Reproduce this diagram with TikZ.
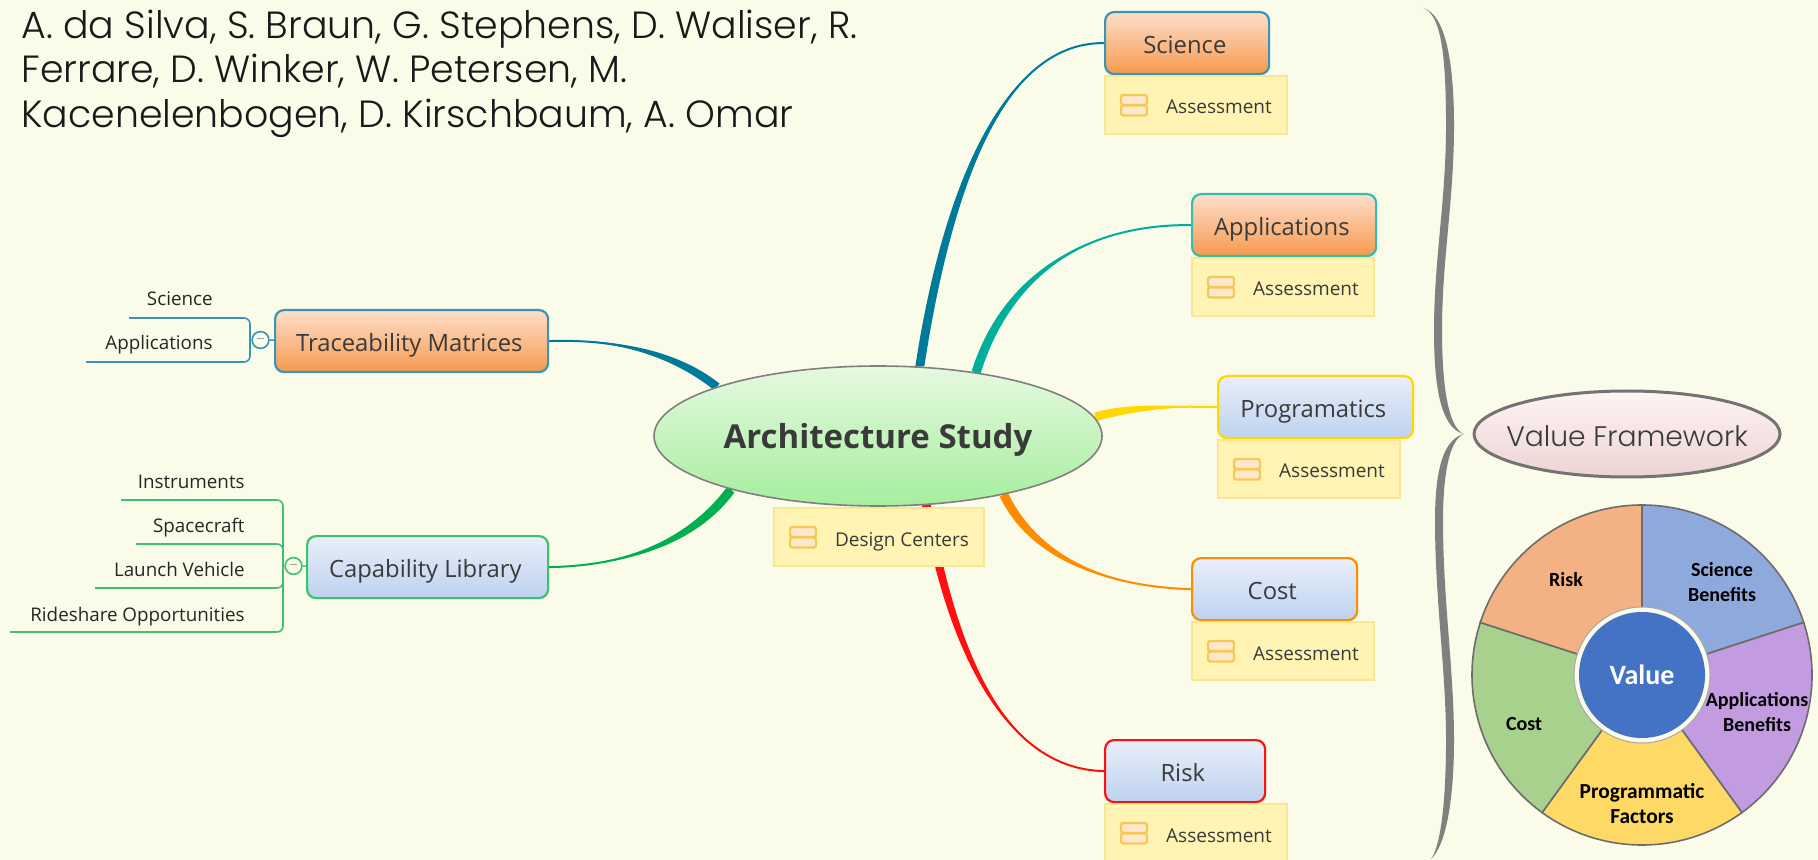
\documentclass[tikz,border=0pt]{standalone}
\usepackage{fontspec}
\setmainfont{Open Sans}
\newfontfamily\headfont[UprightFont=* Light]{Poppins}
\newfontfamily\piefont{Carlito}
\usetikzlibrary{shapes.geometric,calc,backgrounds}
\definecolor{bgc}{HTML}{FBFBE9}
\definecolor{cSci}{HTML}{007A9B}
\definecolor{cApp}{HTML}{00AE9C}
\definecolor{cProg}{HTML}{FFD800}
\definecolor{cCost}{HTML}{FF8C00}
\definecolor{cRisk}{HTML}{FF1010}
\definecolor{cCap}{HTML}{00AF50}
\definecolor{lnTM}{HTML}{3A95B4}
\definecolor{lnCap}{HTML}{3CC26F}
\definecolor{txt}{HTML}{3A3A3A}
\definecolor{oTop}{HTML}{FDDFCB}
\definecolor{oBot}{HTML}{F7994E}
\definecolor{bTop}{HTML}{E9EFF9}
\definecolor{bBot}{HTML}{BDD2F0}
\definecolor{gTop}{HTML}{E6F9E0}
\definecolor{gBot}{HTML}{A6EE9E}
\definecolor{noteF}{HTML}{FFF4B4}
\definecolor{noteB}{HTML}{FBE793}
\definecolor{iconF}{HTML}{FEE8CC}
\definecolor{iconB}{HTML}{F5C85A}
\definecolor{braceC}{HTML}{808080}
\definecolor{valueC}{HTML}{4472C4}
\newcommand{\fs}[1]{\fontsize{#1}{#1}\selectfont}
\newcommand{\minusmark}{\textcolor{gray!75}{\rule[1.4pt]{3.6pt}{0.8pt}}}
\tikzset{
  x=0.5pt,y=-0.5pt,
  topicbox/.style={draw,line width=1.1pt,rounded corners=4.5pt,text=txt,font=\fs{11.9},inner sep=0pt,anchor=north west,text height=10pt,text depth=0pt,execute at end node={\kern2.3pt}},
  orangefill/.style={top color=oTop,bottom color=oBot},
  bluefill/.style={top color=bTop,bottom color=bBot},
  notebox/.style={draw=noteB,fill=noteF,line width=0.8pt,inner sep=0pt,anchor=north west},
  notetext/.style={text=txt,font=\fs{9.5},inner sep=0pt,anchor=base},
  leaf/.style={text=black!85,font=\fs{9.4},inner sep=0pt,anchor=base east},
  toggle/.style={circle,draw,line width=0.8pt,fill=bgc,minimum size=8.4pt,inner sep=0pt},
  wedge/.style={draw=gray!85!black,line width=0.8pt},
  pielabel/.style={font=\piefont\bfseries\fontsize{10}{12.6}\selectfont,align=center,inner sep=0pt,text=black},
  headline/.style={font=\headfont\fs{18.93},anchor=base west,inner sep=0pt,text=black!90},
}
% tapered branch: colour, start, c1, c2, end, half width x, half width y
\newcommand{\branch}[7]{%
  \fill[#1] ($(#2)+(#6,#7)$) .. controls ($(#3)+(#6,#7)$) and (#4) .. (#5)
     .. controls (#4) and ($(#3)-(#6,#7)$) .. ($(#2)-(#6,#7)$) -- cycle;
  \draw[#1,line width=1pt] (#2) .. controls (#3) and (#4) .. (#5);
}
\newcommand{\noteicon}[2]{%
  \draw[iconB,fill=iconF,line width=1.2pt,rounded corners=1.2pt] (#1-13,#2-10) rectangle (#1+13,#2);
  \draw[iconB,fill=iconF,line width=1.2pt,rounded corners=1.2pt] (#1-13,#2+0.5) rectangle (#1+13,#2+10.5);
}
\begin{document}
\begin{tikzpicture}
\useasboundingbox (0,0) rectangle (1818,860);

% nodes
\node[ellipse,draw=gray,line width=0.8pt,top color=gTop,bottom color=gBot,minimum width=224pt,minimum height=70pt,inner sep=0pt,text=txt,font=\bfseries\fs{16.5},text height=13pt,text depth=0pt] (arch) at (878,436) {Architecture Study};

\node[orangefill,topicbox,draw=lnTM,minimum width=136.5pt,minimum height=31pt] (tm) at (274,309) {Traceability Matrices};
\node[bluefill,topicbox,draw=lnCap,minimum width=120.5pt,minimum height=31pt] (cap) at (306,535) {Capability Library};

\node[orangefill,topicbox,draw=lnTM,minimum width=82pt,minimum height=31pt] (sci) at (1104,11) {Science};
\node[orangefill,topicbox,draw=cApp!80!white,minimum width=92pt,minimum height=31pt] (app) at (1191,193) {Applications};
\node[bluefill,topicbox,draw=cProg,minimum width=97.5pt,minimum height=31pt] (prog) at (1217,375) {Programatics};
\node[bluefill,topicbox,draw=cCost,minimum width=82.5pt,minimum height=31pt] (cost) at (1191,557) {Cost};
\node[bluefill,topicbox,draw=cRisk,minimum width=80pt,minimum height=31pt] (risk) at (1104,739) {Risk};

% branches
\begin{scope}[on background layer]
\fill[bgc] (0,0) rectangle (1818,860);
\branch{cSci}{arch.59}{950,170}{1010,42}{sci.west}{4.5}{0}
\branch{cApp}{arch.33}{1005,280}{1080,224}{app.west}{4.5}{1}
\branch{cProg}{arch.5}{1130,407}{1170,406}{prog.west}{0}{4.5}
\branch{cCost}{arch.-25}{1035,560}{1110,587}{cost.west}{4}{-2}
\branch{cRisk}{arch.-55}{950,640}{1000,769}{risk.west}{4.5}{0}
\branch{cSci}{arch.163.6}{670,350}{610,339}{tm.east}{3}{-3}
\branch{cCap}{arch.200.6}{690,545}{620,566}{cap.east}{3.5}{3}
\end{scope}

% notes
\node[notebox,minimum width=105pt,minimum height=29pt] (ndc) at (773,507) {};
\node[notetext] (ndct) at (902,546) {Design Centers};
\noteicon{803}{537}
\foreach \nm/\xx/\yy in {n1/1104/75,n2/1191/257,n3/1217/439,n4/1191/621,n5/1104/803}{
  \node[notebox,minimum width=91pt,minimum height=29pt] (\nm) at (\xx,\yy) {};
  \node[notetext] (\nm t) at (\xx+115,\yy+39) {Assessment};
  \noteicon{\xx+30}{\yy+30}
}

% left side leaves
\node[toggle,draw=lnTM] (tmT) at (260.5,340) {\minusmark};
\node[toggle,draw=lnCap] (capT) at (293.5,566) {\minusmark};
\draw[lnTM,line width=0.8pt] (tmT) -- (tm);
\draw[lnCap,line width=0.8pt] (capT) -- (cap);

\node[leaf] (l1) at (213,306) {Science};
\node[leaf] (l2) at (213,350) {Applications};
\node[leaf] (l3) at (245,488) {Instruments};
\node[leaf] (l4) at (245,532) {Spacecraft};
\node[leaf] (l5) at (245,576) {Launch Vehicle};
\node[leaf] (l6) at (245,621) {Rideshare Opportunities};

\draw[lnTM,line width=0.8pt,rounded corners=3pt] (129,318) -- (250,318) -- (250,362) -- (86,362);
\draw[lnTM,line width=0.8pt] (250,340) -- (tmT);
\draw[lnCap,line width=0.8pt,rounded corners=3pt] (121,500) -- (283,500) -- (283,632) -- (10,632);
\draw[lnCap,line width=0.8pt,rounded corners=3pt] (136,544) -- (283,544) -- (283,588) -- (95,588);
\draw[lnCap,line width=0.8pt] (283,566) -- (capT);

% header
\node[headline] (h1) at (21,39) {A. da Silva, S. Braun, G. Stephens, D. Waliser, R.};
\node[headline] (h2) at (21,83) {Ferrare, D. Winker, W. Petersen, M.};
\node[headline] (h3) at (21,127.5) {Kacenelenbogen, D. Kirschbaum, A. Omar};

% brace
\fill[braceC] (1423,8) .. controls (1445,14) and (1454,60) .. (1454,126)
  .. controls (1454,200) and (1442,260) .. (1442,330)
  .. controls (1442,385) and (1448,428) .. (1464,434)
  .. controls (1448,440) and (1443,480) .. (1443,521)
  .. controls (1443,600) and (1454,670) .. (1454,740)
  .. controls (1454,800) and (1446,845) .. (1431,859)
  .. controls (1441,845) and (1446,800) .. (1446,740)
  .. controls (1446,670) and (1435,600) .. (1435,521)
  .. controls (1435,480) and (1440,440) .. (1464,434)
  .. controls (1440,428) and (1434,385) .. (1434,330)
  .. controls (1434,260) and (1446,200) .. (1446,126)
  .. controls (1446,60) and (1442,14) .. (1423,8) -- cycle;

% value framework
\node[ellipse,draw=gray!90!black,line width=1.5pt,top color=pink!18!white,bottom color=pink!45!white!85!gray,minimum width=153pt,minimum height=43pt,inner sep=0pt] (vf) at (1627,434) {};
\node[text=txt,font=\headfont\fs{14.1},inner sep=0pt,anchor=base] (vft) at (1627,446) {Value Framework};

% pie
\coordinate (pc) at (1642,675);
\foreach \a/\b/\c in {90/18/8EA9DB,18/-54/C39BE1,-54/-126/FFD966,-126/-198/A9D18E,-198/-270/F4B183}{
  \definecolor{wc}{HTML}{\c}
  \draw[wedge,fill=wc] ($(pc)+({\a}:170 and -170)$) arc[start angle=-\a,end angle=-\b,radius=170] -- (pc) -- cycle;
}
\node[circle,fill=bgc,draw=gray!70,line width=0.5pt,minimum size=68pt,inner sep=0pt] (vo) at (pc) {};
\node[circle,fill=valueC,minimum size=63pt,inner sep=0pt,text=white,font=\piefont\bfseries\fs{14}] (val) at (pc) {Value};
\node[pielabel] (p1) at (1722,582) {Science\\Benefits};
\node[pielabel] (p2) at (1757,712) {Applications\\Benefits};
\node[pielabel,font=\piefont\bfseries\fontsize{10.7}{12.6}\selectfont] (p3) at (1642,803.5) {Programmatic\\Factors};
\node[pielabel] (p4) at (1524,724) {Cost};
\node[pielabel] (p5) at (1566,580) {Risk};
\end{tikzpicture}
\end{document}
